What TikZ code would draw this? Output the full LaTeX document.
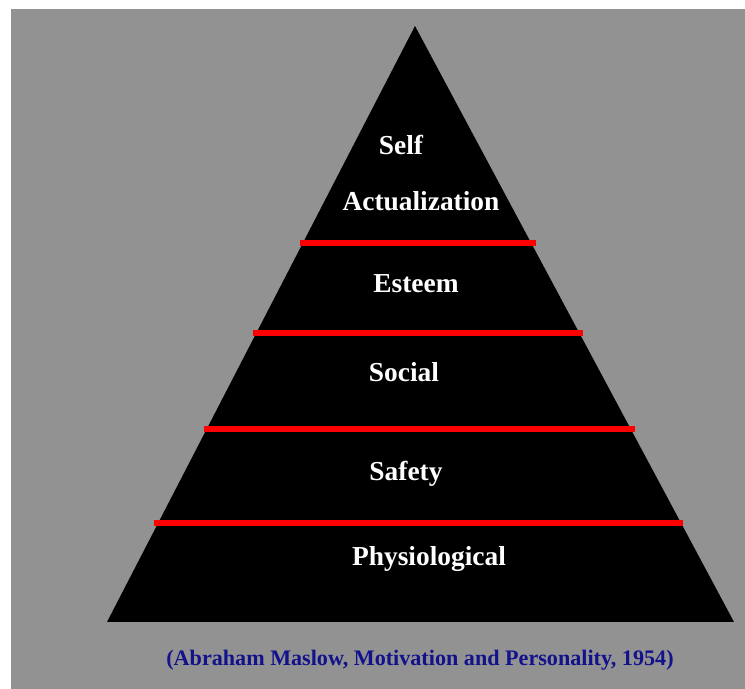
\documentclass[tikz,border=0pt]{standalone}
\usepackage{fontspec}
\setmainfont{Liberation Serif}
\definecolor{backgrey}{RGB}{146,146,146}
\definecolor{maslowblue}{RGB}{18,18,140}
\tikzstyle{level}=[text=white, inner sep=0pt, font=\fontsize{15.6}{18}\selectfont\bfseries]
\tikzstyle{divider}=[draw=red, line width=3.3pt]
\newcommand{\level}{\node[level]}

\begin{document}
\begin{tikzpicture}[x=0.02cm, y=-0.02cm]
	\useasboundingbox (0,0) rectangle (745,689);
	%% the background
	\fill[backgrey] (11,9) rectangle (745,689);
	%% the pyramid
	\coordinate (top) at (415,26);
	\coordinate (left) at (107,622);
	\coordinate (right) at (734,622);
	\fill[black] (top) -- (left) -- (right) -- cycle;
	%% the levels
	\level (self) at (401,145) {Self};
	\level (actual) at (421,201) {Actualization};
	\level (esteem) at (416,284) {Esteem};
	\level (social) at (404,372) {Social};
	\level (safety) at (406,474) {Safety};
	\level (physio) at (429,559) {Physiological};
	%% the red lines
	\coordinate (a1) at (300,243);
	\coordinate (b1) at (536,243);
	\coordinate (a2) at (253,333);
	\coordinate (b2) at (583,333);
	\coordinate (a3) at (204,429);
	\coordinate (b3) at (635,429);
	\coordinate (a4) at (154,523);
	\coordinate (b4) at (683,523);
	\path
		(a1) edge[divider] (b1)
		(a2) edge[divider] (b2)
		(a3) edge[divider] (b3)
		(a4) edge[divider] (b4)
		;
	%% the source
	\node[text=maslowblue, inner sep=0pt, font=\fontsize{12.6}{15}\selectfont\bfseries] (source) at (420,660)
		{(Abraham Maslow, Motivation and Personality, 1954)};

\end{tikzpicture}
\end{document}
